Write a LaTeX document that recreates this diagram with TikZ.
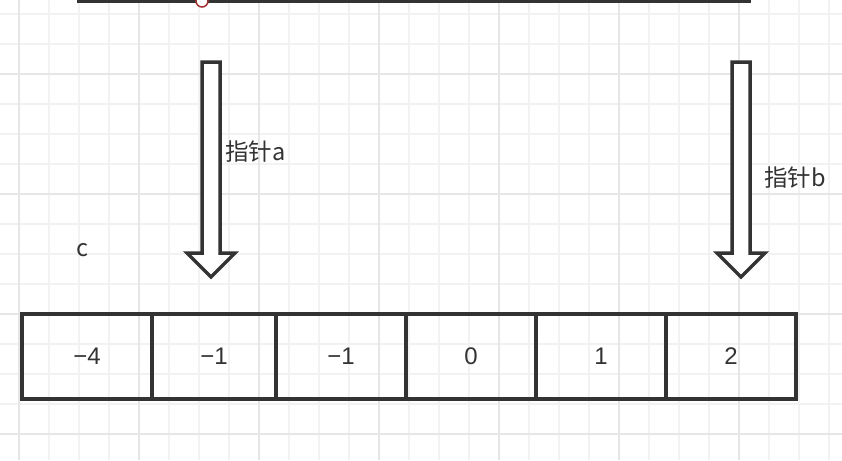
\documentclass[tikz,border=0pt]{standalone}
\usepackage{fontspec}
\setmainfont{Liberation Sans}
\newfontfamily\cjk{Noto Sans CJK SC}
\usetikzlibrary{positioning}
\definecolor{ink}{HTML}{333333}
\definecolor{gridminor}{HTML}{F2F2F2}
\definecolor{gridmajor}{HTML}{E6E6E6}
\definecolor{pin}{HTML}{A03030}

\begin{document}
\begin{tikzpicture}[x=1pt,y=-1pt,
	cell/.style={shape=rectangle,draw=ink,line width=3.5pt,minimum width=130pt,
	minimum height=85pt,inner sep=0pt,outer sep=0pt,text=ink,
	font=\fontsize{24}{26}\selectfont},
	pointer/.style={draw=ink,line width=3.5pt,fill=white},
	ptrtext/.style={inner sep=0pt,text=ink,font=\cjk\fontsize{23.5}{26}\selectfont}]
	% page and grid
	\fill[white] (0,0) rectangle (842,460);
	\useasboundingbox (0,0) rectangle (842,460);
	\foreach \gx in {19,49,...,829} \draw[gridminor,line width=1.2pt] (\gx,0) -- (\gx,460);
	\foreach \gy in {14,44,...,434} \draw[gridminor,line width=1.2pt] (0,\gy) -- (842,\gy);
	\foreach \gx in {19,139,...,739} \draw[gridmajor,line width=1.2pt] (\gx,0) -- (\gx,460);
	\foreach \gy in {74,194,...,434} \draw[gridmajor,line width=1.2pt] (0,\gy) -- (842,\gy);

	% the bar at the top
	\coordinate (barl) at (77,1);
	\coordinate (barr) at (751,1);
	\draw[ink,line width=3.5pt] (barl) -- (barr);
	\node (knob) [circle,draw=pin,fill=white,line width=1.5pt,minimum size=12pt,
	inner sep=0pt] at (202,1) {};

	% create the cells.
	\node (c1) [cell] at (87,356.5) {−4};
	\node (c2) [cell,minimum width=124pt,right=0pt of c1] {−1};
	\node (c3) [cell,right=0pt of c2] {−1};
	\node (c4) [cell,right=0pt of c3] {0};
	\node (c5) [cell,right=0pt of c4] {1};
	\node (c6) [cell,right=0pt of c5] {2};

	% the two pointers
	\coordinate (ptra) at (211,62);
	\coordinate (ptrb) at (741,62);
	\draw[pointer,shift={(ptra)}] (-9,0) -- (-9,191) -- (-24,191) -- (0,215)
	-- (24,191) -- (9,191) -- (9,0) -- cycle;
	\draw[pointer,shift={(ptrb)}] (-9,0) -- (-9,191) -- (-24,191) -- (0,215)
	-- (24,191) -- (9,191) -- (9,0) -- cycle;
	\node (taga) [ptrtext,anchor=west] at (225,152) {指针a};
	\node (tagb) [ptrtext,anchor=west] at (764,178) {指针b};
	\node (cvar) [ptrtext] at (82,250) {c};
\end{tikzpicture}
\end{document}
